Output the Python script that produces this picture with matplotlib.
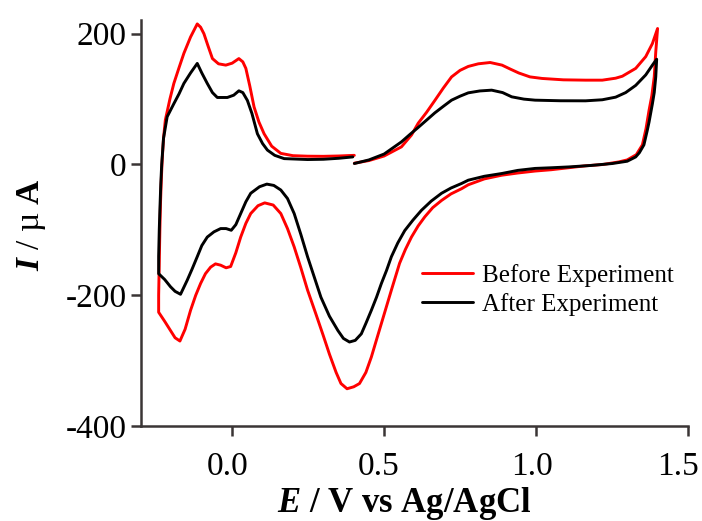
import matplotlib
matplotlib.use("Agg")
import matplotlib.pyplot as plt
import matplotlib.transforms as mtransforms

# ---------------- data ----------------
# "Before Experiment" (red) : traversal order starting at 0.40 V going anodic
before_E = [0.402, 0.45, 0.50, 0.557, 0.59, 0.612, 0.64, 0.667, 0.695, 0.722, 0.75, 0.777,
            0.81, 0.849, 0.888, 0.915, 0.943, 0.98, 1.02, 1.09, 1.163, 1.218, 1.262, 1.284,
            1.328, 1.361, 1.383, 1.400,
            1.394, 1.389, 1.381, 1.372, 1.362, 1.350, 1.33, 1.30, 1.273, 1.22, 1.163, 1.108,
            1.05, 0.997, 0.94, 0.887, 0.83, 0.777, 0.755, 0.72, 0.689, 0.66, 0.634, 0.612,
            0.590, 0.570, 0.551, 0.524, 0.508, 0.491, 0.475, 0.458, 0.44, 0.419, 0.40, 0.378,
            0.358, 0.342, 0.320, 0.300, 0.275, 0.248, 0.226, 0.204, 0.182, 0.160, 0.135,
            0.107, 0.085, 0.061, 0.045, 0.028, 0.012, -0.005, -0.02, -0.038, -0.055, -0.071,
            -0.088, -0.104, -0.12, -0.137, -0.155, -0.172, -0.188, -0.203, -0.222, -0.242,
            -0.242, -0.240, -0.238, -0.236, -0.233, -0.230, -0.226, -0.220, -0.205, -0.192,
            -0.175, -0.159, -0.137, -0.115, -0.104, -0.093, -0.08, -0.065, -0.045, -0.021,
            0.0, 0.022, 0.035, 0.045, 0.058, 0.072, 0.088, 0.105, 0.13, 0.160, 0.20, 0.248,
            0.30, 0.35, 0.402]
before_I = [2, 6, 13, 27, 45, 63, 80, 98, 117, 134, 144, 150,
            154, 156, 152, 146, 140, 134, 131.6, 129.5, 129, 129, 132, 135,
            147, 165, 185, 208,
            172, 134, 105, 83, 55, 30, 15, 7, 4, 0, -2, -5,
            -8, -10, -13, -16.4, -22, -31, -37, -45, -55, -66, -80, -94,
            -111, -130, -151, -192, -217, -243, -268, -294.5, -318, -335, -340, -343,
            -335, -318, -290, -262, -228, -192, -158, -126, -98, -75, -62,
            -58.7, -63, -75, -90, -111, -135, -156, -158, -154, -152, -157,
            -167, -182, -200, -223, -252, -270, -265, -254, -240, -226,
            -200, -150, -100, -60, -20, 10, 40, 68, 100, 124,
            148, 170, 195, 215, 210, 200, 182, 162, 154, 152,
            155, 162, 157, 147, 120, 88, 65, 47, 28, 17, 13.5, 12.7,
            12.5, 13, 14]

# "After Experiment" (black)
after_E = [0.402, 0.45, 0.50, 0.557, 0.585, 0.612, 0.64, 0.667, 0.695, 0.722, 0.75, 0.777,
           0.815, 0.854, 0.89, 0.920, 0.96, 0.997, 1.08, 1.163, 1.218, 1.262, 1.295, 1.328,
           1.361, 1.383, 1.397,
           1.394, 1.389, 1.383, 1.372, 1.366, 1.355, 1.340, 1.328, 1.30, 1.251, 1.18, 1.108,
           1.05, 0.997, 0.94, 0.887, 0.83, 0.777, 0.755, 0.72, 0.689, 0.655, 0.623, 0.595,
           0.568, 0.545, 0.524, 0.508, 0.491, 0.475, 0.458, 0.44, 0.425, 0.405, 0.386,
           0.366, 0.348, 0.320, 0.292, 0.270, 0.248, 0.226, 0.204, 0.182, 0.160, 0.137,
           0.114, 0.09, 0.061, 0.045, 0.028, 0.012, -0.003, -0.02, -0.038, -0.06, -0.082,
           -0.10, -0.115, -0.132, -0.148, -0.170, -0.188, -0.203, -0.222, -0.242,
           -0.242, -0.240, -0.238, -0.235, -0.232, -0.226, -0.214, -0.192, -0.175, -0.159,
           -0.137, -0.115, -0.100, -0.082, -0.065, -0.049, -0.016, 0.005, 0.022, 0.035, 0.050,
           0.065, 0.083, 0.100, 0.116, 0.140, 0.171, 0.248, 0.30, 0.35, 0.397]
after_I = [1.5, 7, 16, 34.6, 46, 56.6, 68, 79, 89, 98.4, 104.5, 109.6,
           112.5, 113.7, 110, 103.5, 100, 98.4, 97.5, 97.4, 99, 103, 110, 121,
           137, 152, 161,
           134, 110, 93, 65, 52, 30, 18, 11.6, 5, 1.5, -1.5, -3.7,
           -5, -6, -9, -13.8, -18, -24, -29, -36, -44, -56, -70, -85,
           -101, -120, -141, -162, -182, -203, -223, -243, -259, -269, -271.5,
           -266, -254, -232, -203, -172, -141, -107, -75, -52, -39, -32,
           -30, -34, -44, -57, -75, -92, -100.6, -98, -98, -103, -111,
           -124, -141, -160, -177, -198.5, -194, -187, -176, -167,
           -140, -100, -70, -30, 0, 40, 73, 93, 108, 124,
           140, 154.6, 140, 124, 110, 102.5, 102.5, 106, 112.7, 110, 98,
           78, 47, 32, 22, 14, 9, 7.6, 8, 9.5, 11.6]

x_ticks = [0.0, 0.5, 1.0, 1.5]
x_ticklabels = ["0.0", "0.5", "1.0", "1.5"]
y_ticks = [-400, -200, 0, 200]
y_ticklabels = ["-400", "-200", "0", "200"]
legend_labels = ["Before Experiment", "After Experiment"]

# ---------------- styling ----------------
plt.rcParams["font.family"] = ["Liberation Serif", "DejaVu Serif"]
plt.rcParams["mathtext.fontset"] = "custom"
plt.rcParams["mathtext.rm"] = "Liberation Serif"
plt.rcParams["mathtext.it"] = "Liberation Serif:italic"
plt.rcParams["mathtext.bf"] = "Liberation Serif:bold"
plt.rcParams["mathtext.bfit"] = "Liberation Serif:italic:bold"

spine_col = "#3a3535"

fig = plt.figure(figsize=(7.02, 5.21), dpi=100)
ax = fig.add_axes([0.2009, 0.1823, 0.7791, 0.7793])

ax.plot(before_E, before_I, color="#ff0000", lw=2.1, label=legend_labels[0],
        solid_joinstyle="round", solid_capstyle="round")
ax.plot(after_E, after_I, color="#000000", lw=2.1, label=legend_labels[1],
        solid_joinstyle="round", solid_capstyle="round")

ax.set_xlim(-0.30, 1.5)
ax.set_ylim(-400, 221)

ax.set_xticks(x_ticks)
ax.set_xticklabels(x_ticklabels)
ax.set_yticks(y_ticks)
ax.set_yticklabels(y_ticklabels)

for s in ["top", "right"]:
    ax.spines[s].set_visible(False)
for s in ["left", "bottom"]:
    ax.spines[s].set_color(spine_col)
    ax.spines[s].set_linewidth(1.8)

ax.tick_params(axis="both", which="major", direction="out", length=7.5, width=1.8,
               color=spine_col, labelsize=24, labelcolor="black")
ax.tick_params(axis="x", pad=11)
ax.tick_params(axis="y", pad=3)

# slight leftward offsets of the x tick labels (last one kept inside the figure)
x_shifts_px = [-5, -5, -4, -10]
for lab, dx in zip(ax.get_xticklabels(), x_shifts_px):
    lab.set_transform(lab.get_transform() +
                      mtransforms.ScaledTranslation(dx / 100.0, 0, fig.dpi_scale_trans))

ax.set_xlabel(r"$\mathbfit{E}$ / V vs Ag/AgCl", fontsize=25, fontweight="bold")
ax.xaxis.set_label_coords(0.481, -0.145)
ax.set_ylabel(r"$\mathbfit{I}$ / µ $\mathbf{A}$", fontsize=24)
ax.yaxis.set_label_coords(-0.171, 0.496)

leg = ax.legend(loc="upper left", bbox_to_anchor=(0.514, 0.40), frameon=False,
                fontsize=18, handlelength=2.05, handletextpad=0.36, labelspacing=0.25,
                borderpad=0, borderaxespad=0)

fig.savefig("out.png", dpi=100)
